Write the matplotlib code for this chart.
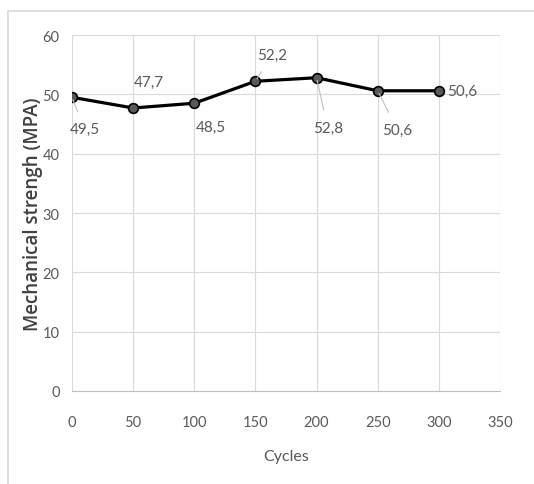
import matplotlib
matplotlib.use('Agg')
import matplotlib.pyplot as plt
from matplotlib.patches import Rectangle

cycles = [0, 50, 100, 150, 200, 250, 300]
strength = [49.5, 47.7, 48.5, 52.2, 52.8, 50.6, 50.6]
labels = ['49,5', '47,7', '48,5', '52,2', '52,8', '50,6', '50,6']
# label offsets in points (dx, dy) and whether a leader line is drawn
offsets = [(9, -23), (11, 19), (12, -17), (12, 19), (8, -36), (14, -28), (17, 0)]
leaders = [True, False, False, True, True, True, False]

plt.rcParams['font.family'] = ['Lato', 'DejaVu Sans']

fig = plt.figure(figsize=(5.34, 4.85), dpi=100)
fig.patches.append(Rectangle((8 / 534, -0.1), 1.2, (485 - 12) / 485 + 0.1,
                             transform=fig.transFigure, fill=False,
                             edgecolor='#d9d9d9', linewidth=1.2))

ax = fig.add_axes([72 / 534, 93 / 485, 428 / 534, 356 / 485])
ax.plot(cycles, strength, color='black', linewidth=2.3, marker='o',
        markersize=7, markerfacecolor='#595959', markeredgecolor='black',
        markeredgewidth=1.2, zorder=3)

for x, y, lab, off, lead in zip(cycles, strength, labels, offsets, leaders):
    ax.annotate(lab, (x, y), xytext=off, textcoords='offset points',
                ha='center', va='center', fontsize=11, color='#595959',
                arrowprops=dict(arrowstyle='-', color='#bfbfbf', lw=0.8,
                                shrinkA=6, shrinkB=2) if lead else None)

ax.set_xlim(0, 350)
ax.set_ylim(0, 60)
ax.set_xticks(range(0, 351, 50))
ax.set_yticks(range(0, 61, 10))
ax.grid(True, color='#d9d9d9', linewidth=0.8)
ax.set_axisbelow(True)
for s in ['top', 'right', 'left']:
    ax.spines[s].set_visible(False)
ax.spines['bottom'].set_color('#bfbfbf')
ax.tick_params(axis='x', length=0, labelsize=10.5, labelcolor='#595959', pad=17)
ax.tick_params(axis='y', length=0, labelsize=10.5, labelcolor='#595959', pad=9)
ax.set_xlabel('Cycles', fontsize=11.5, color='#595959', labelpad=15)
ax.set_ylabel('Mechanical strengh (MPA)', fontsize=13.5, color='#404040',
              family='Open Sans', fontweight='semibold')
ax.yaxis.set_label_coords(-0.068, 0.5)

fig.savefig('out.png', dpi=100)
